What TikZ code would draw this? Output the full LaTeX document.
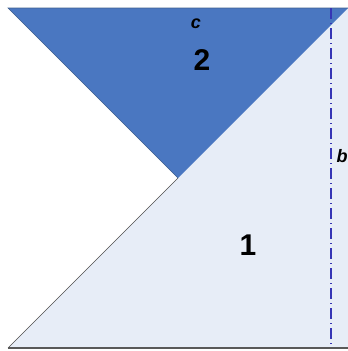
\documentclass[tikz,border=0pt]{standalone}
\usepackage{fontspec}
\setmainfont{Liberation Sans}
\begin{document}
\begin{tikzpicture}[x=1pt,y=-1pt,
  lbl/.style={font=\bfseries\fontsize{30}{30}\selectfont, inner sep=0pt},
  sml/.style={font=\bfseries\itshape\fontsize{18}{18}\selectfont, inner sep=0pt}]
\definecolor{darkblue}{HTML}{4A77C1}
\definecolor{lightblue}{HTML}{E7EDF7}
\definecolor{edge}{HTML}{3F5F8F}
\definecolor{dashblue}{HTML}{3535B5}
\useasboundingbox (0,0) rectangle (348,351);
\coordinate (BL) at (8,348);
\coordinate (BR) at (348,348);
\coordinate (TR) at (348,8);
\coordinate (TL) at (8,8);
\coordinate (M) at (178,178);
\fill[lightblue] (BL) -- (TR) -- (BR) -- cycle;
\draw[black!70, line width=0.6pt] (BL) -- (M);
\fill[darkblue] (TL) -- (TR) -- (M) -- cycle;
\draw[edge, line width=0.6pt] (M) -- (TL) -- (TR);
\draw[black!65, line width=2.2pt] (BL) -- (BR);
\coordinate (DT) at (331,8);
\coordinate (DB) at (331,346);
\draw[dashblue, line width=1.3pt, dash pattern=on 11pt off 4pt on 1pt off 4pt] (DT) -- (DB);
\node[sml] (c) at (196,24) {c};
\node[lbl] (two) at (202,60) {2};
\node[lbl] (one) at (248,245) {1};
\node[sml] (b) at (342,156) {b};
\end{tikzpicture}
\end{document}
